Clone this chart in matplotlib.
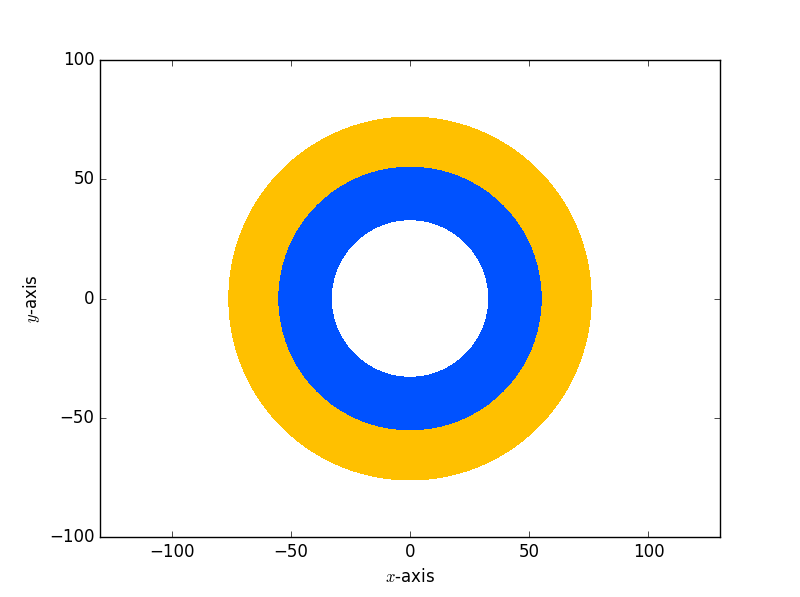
import matplotlib
matplotlib.use("Agg")
import matplotlib.pyplot as plt
from matplotlib.patches import Wedge

plt.style.use("classic")

# rings: outer radius, inner radius, colour
ring_outer = [76, 55]
ring_inner = [55, 33]
ring_colors = ["#ffc000", "#0052ff"]
center = (0, 0)

fig = plt.figure(figsize=(8, 5.97), dpi=100)
ax = fig.add_subplot(111)

for r_out, r_in, c in zip(ring_outer, ring_inner, ring_colors):
    w = Wedge(center, r_out, 0, 360, width=r_out - r_in,
              facecolor=c, edgecolor="none", antialiased=False)
    ax.add_patch(w)

ax.set_xlim(-130, 130)
ax.set_ylim(-100, 100)
ax.set_xticks([-100, -50, 0, 50, 100])
ax.set_yticks([-100, -50, 0, 50, 100])
ax.set_xlabel("$x$-axis")
ax.set_ylabel("$y$-axis")

fig.savefig("out.png", dpi=100)
